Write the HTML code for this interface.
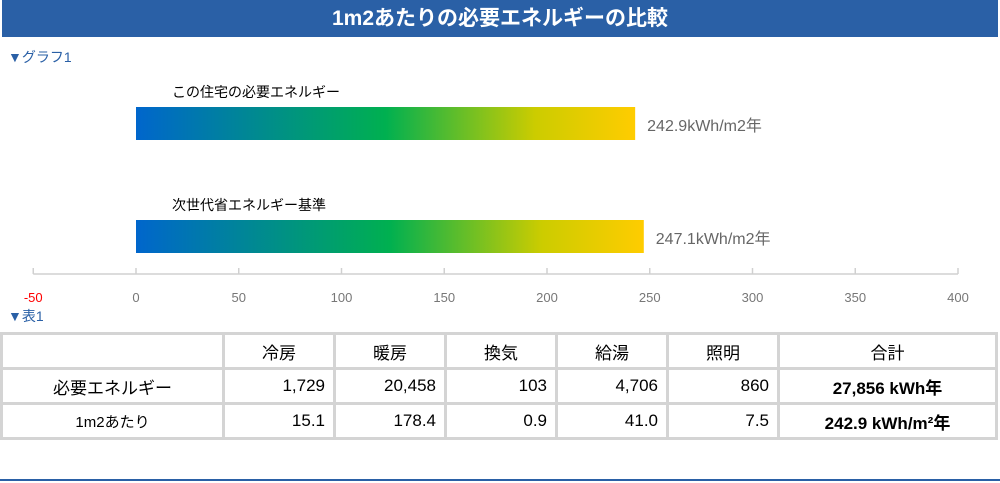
<!DOCTYPE html>
<html><head><meta charset="utf-8"><style>
body{margin:0;width:1000px;height:483px;overflow:hidden;background:#fff;font-family:"Liberation Sans","Noto Sans CJK JP",sans-serif;position:relative}
.a{position:absolute}
#title{left:2px;top:0;width:996px;height:37px;background:#2a60a6;color:#fff;font-size:21px;font-weight:bold;text-align:center;line-height:37px}
.sec{color:#2a60a6;font-size:14px}
.lbl{font-size:14px;color:#000}
.val{font-size:16px;color:#666}
.tick{font-size:13px;color:#777;width:60px;text-align:center}
table{position:absolute;left:0;top:332px;border-collapse:separate;border-spacing:3px;background:#d4d4d4;width:998px}
td{background:#fff;height:32px;font-size:17px;padding:0 8px;text-align:right}
td.c{text-align:center}
</style></head><body>
<div id="title" class="a">1m2あたりの必要エネルギーの比較</div>
<div class="a sec" style="left:8px;top:47px">▼グラフ1</div>
<svg id="chart" class="a" style="left:0;top:80px" width="1000" height="230">
<defs><linearGradient id="g" x1="0" x2="1"><stop offset="0" stop-color="#0066cc"/><stop offset="0.5" stop-color="#00b050"/><stop offset="0.8" stop-color="#cccc00"/><stop offset="1" stop-color="#ffcc00"/></linearGradient></defs>
</svg>
<div class="a sec" style="left:8px;top:306px">▼表1</div>
<table>
<tr><td style="width:203px"></td><td class="c" style="width:92px">冷房</td><td class="c" style="width:92px">暖房</td><td class="c" style="width:92px">換気</td><td class="c" style="width:92px">給湯</td><td class="c" style="width:92px">照明</td><td class="c">合計</td></tr>
<tr><td class="c">必要エネルギー</td><td>1,729</td><td>20,458</td><td>103</td><td>4,706</td><td>860</td><td class="c" style="font-weight:bold">27,856 kWh年</td></tr>
<tr><td class="c" style="font-size:15px">1m2あたり</td><td>15.1</td><td>178.4</td><td>0.9</td><td>41.0</td><td>7.5</td><td class="c" style="font-weight:bold">242.9 kWh/m²年</td></tr>
</table>
<div class="a" style="left:0;top:479px;width:1000px;height:2px;background:#2a60a6"></div>
<script>
const categories=["この住宅の必要エネルギー","次世代省エネルギー基準"];
const values=[242.9,247.1];
const ticks=[-50,0,50,100,150,200,250,300,350,400];
const ns="http://www.w3.org/2000/svg";
const svg=document.getElementById('chart');
const x0=136, ppu=(958-136)/400, oy=80;
const X=v=>x0+v*ppu;
function mk(t,a){const e=document.createElementNS(ns,t);for(const k in a)e.setAttribute(k,a[k]);svg.appendChild(e);return e;}
const barTop=[107,220];
categories.forEach((c,i)=>{
 const y=barTop[i]-oy;
 const t=mk('text',{x:172,y:y-10,'font-size':14,fill:'#000'});t.textContent=c;
 
 
 const r=mk('rect',{x:X(0),y:y,width:X(values[i])-X(0),height:33,fill:'url(#g)'});
 
 
 const v=mk('text',{x:X(values[i])+12,y:y+24,'font-size':16,fill:'#666'});v.textContent=values[i].toFixed(1)+'kWh/m2年';
 
 
});
const ay=274-oy;
const ax=mk('line',{x1:X(-50),x2:X(400),y1:ay,y2:ay,stroke:'#d0d0d0','stroke-width':1.5});


ticks.forEach(t=>{
 const l=mk('line',{x1:X(t),x2:X(t),y1:ay-6,y2:ay,stroke:'#d0d0d0','stroke-width':1.5});
 
 
 const tx=mk('text',{x:X(t),y:ay+28,'font-size':13,'text-anchor':'middle',fill:t<0?'#ff0000':'#777'});tx.textContent=t;
 
 
});
</script>
</body></html>
